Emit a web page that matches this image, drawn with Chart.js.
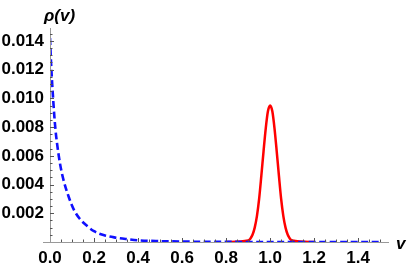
<!DOCTYPE html>
<html>
<head>
<meta charset="utf-8">
<script src="https://cdn.jsdelivr.net/npm/chart.js@4/dist/chart.umd.min.js"></script>
<style>
  html, body { margin: 0; padding: 0; background: #fff; }
  #chart { display: block; }
</style>
</head>
<body>
<canvas id="chart" width="415" height="267"></canvas>
<script>
'use strict';
/* global Chart */

// blue dashed curve
const vBlue   = [0, 0.005, 0.01, 0.02, 0.025, 0.03, 0.045, 0.06, 0.086, 0.11, 0.136, 0.17, 0.2, 0.25, 0.3, 0.35, 0.4, 0.5, 0.6, 0.8, 1.0, 1.2, 1.5];
const rhoBlue = [0.0142, 0.0124, 0.0110, 0.0087, 0.0078, 0.0071, 0.0055, 0.0044, 0.0031, 0.0022, 0.0016, 0.0011, 0.00075, 0.00045, 0.0003, 0.0002, 0.00012, 0.00006, 0.00003, 0.00001, 0, 0, 0];

// red peak around v = 1
const vRed   = [0.8, 0.9, 0.91, 0.92, 0.93, 0.94, 0.95, 0.96, 0.97, 0.98, 0.99, 1.0, 1.01, 1.02, 1.03, 1.04, 1.05, 1.06, 1.07, 1.08, 1.09, 1.1, 1.2];
const rhoRed = [0, 0.0001, 0.00023, 0.0005, 0.0010, 0.0018, 0.0030, 0.0046, 0.0063, 0.0079, 0.0091, 0.0095, 0.0091, 0.0079, 0.0063, 0.0046, 0.0030, 0.0018, 0.0010, 0.0005, 0.00023, 0.0001, 0];

const xTicks = [0, 0.2, 0.4, 0.6, 0.8, 1.0, 1.2, 1.4];
const xTickLabels = ['0.0', '0.2', '0.4', '0.6', '0.8', '1.0', '1.2', '1.4'];
const yTicks = [0.002, 0.004, 0.006, 0.008, 0.010, 0.012, 0.014];
const yTickLabels = ['0.002', '0.004', '0.006', '0.008', '0.010', '0.012', '0.014'];

const toXY = (xs, ys) => xs.map((x, i) => ({ x, y: ys[i] }));
const tickFont = { family: '"Liberation Sans", Arial, sans-serif', size: 17, weight: 'bold' };

// Mathematica-like axes: lines through the origin, ticks pointing inwards
const axesPlugin = {
  id: 'axes',
  afterDatasetsDraw(chart) {
    const { ctx, chartArea: a, scales: { x, y } } = chart;
    const x0 = x.getPixelForValue(0);
    const y0 = y.getPixelForValue(0);
    ctx.save();
    ctx.strokeStyle = '#999';
    ctx.lineWidth = 1;
    ctx.beginPath();
    ctx.moveTo(a.left - 7, y0 + 0.5); ctx.lineTo(a.right, y0 + 0.5);
    ctx.moveTo(x0 + 0.5, a.top); ctx.lineTo(x0 + 0.5, y0);
    ctx.stroke();
    ctx.strokeStyle = '#555';
    ctx.beginPath();
    for (let v = 0.05; v < 1.52; v += 0.05) {
      const px = Math.round(x.getPixelForValue(v)) + 0.5;
      const major = Math.abs(v / 0.2 - Math.round(v / 0.2)) < 1e-6;
      ctx.moveTo(px, y0); ctx.lineTo(px, y0 - (major ? 4 : 2.5));
    }
    for (let v = 0.0005; v < 0.0149; v += 0.0005) {
      const py = Math.round(y.getPixelForValue(v)) + 0.5;
      const major = Math.abs(v / 0.002 - Math.round(v / 0.002)) < 1e-6;
      ctx.moveTo(x0, py); ctx.lineTo(x0 + (major ? 4 : 2.5), py);
    }
    ctx.stroke();
    ctx.fillStyle = '#000';
    ctx.font = 'italic bold 17px "Liberation Sans", Arial, sans-serif';
    ctx.textBaseline = 'alphabetic';
    ctx.textAlign = 'left';
    ctx.fillText('ρ(v)', 44, 21);
    ctx.fillText('v', 396, 249);
    ctx.restore();
  }
};

new Chart(document.getElementById('chart'), {
  type: 'line',
  data: {
    datasets: [
      {
        data: toXY(vBlue, rhoBlue),
        borderColor: '#1010ff',
        borderWidth: 2.6,
        borderDash: [7, 3.5],
        pointRadius: 0,
        cubicInterpolationMode: 'monotone',
        fill: false,
      },
      {
        data: toXY(vRed, rhoRed),
        borderColor: '#ff0000',
        borderWidth: 2.5,
        pointRadius: 0,
        cubicInterpolationMode: 'monotone',
        fill: false,
      },
    ],
  },
  options: {
    responsive: false,
    animation: false,
    layout: { padding: { left: 0, right: 26, top: 28, bottom: 0 } },
    plugins: { legend: { display: false }, tooltip: { enabled: false } },
    scales: {
      x: {
        type: 'linear',
        min: 0, max: 1.54,
        afterBuildTicks: s => { s.ticks = xTicks.map(v => ({ value: v })); },
        afterFit: s => { s.height = 25; },
        ticks: {
          callback: (v, i) => xTickLabels[i],
          color: '#000',
          font: tickFont,
          padding: 6,
          maxRotation: 0,
          autoSkip: false,
        },
        grid: { display: false, drawTicks: false, tickLength: 0 },
        border: { display: false },
      },
      y: {
        type: 'linear',
        min: 0, max: 0.0149,
        afterBuildTicks: s => { s.ticks = yTicks.map(v => ({ value: v })); },
        afterFit: s => { s.width = 50; },
        ticks: {
          callback: (v, i) => yTickLabels[i],
          color: '#000',
          font: tickFont,
          padding: 6,
          autoSkip: false,
        },
        grid: { display: false, drawTicks: false, tickLength: 0 },
        border: { display: false },
      },
    },
  },
  plugins: [axesPlugin],
});
</script>
</body>
</html>
